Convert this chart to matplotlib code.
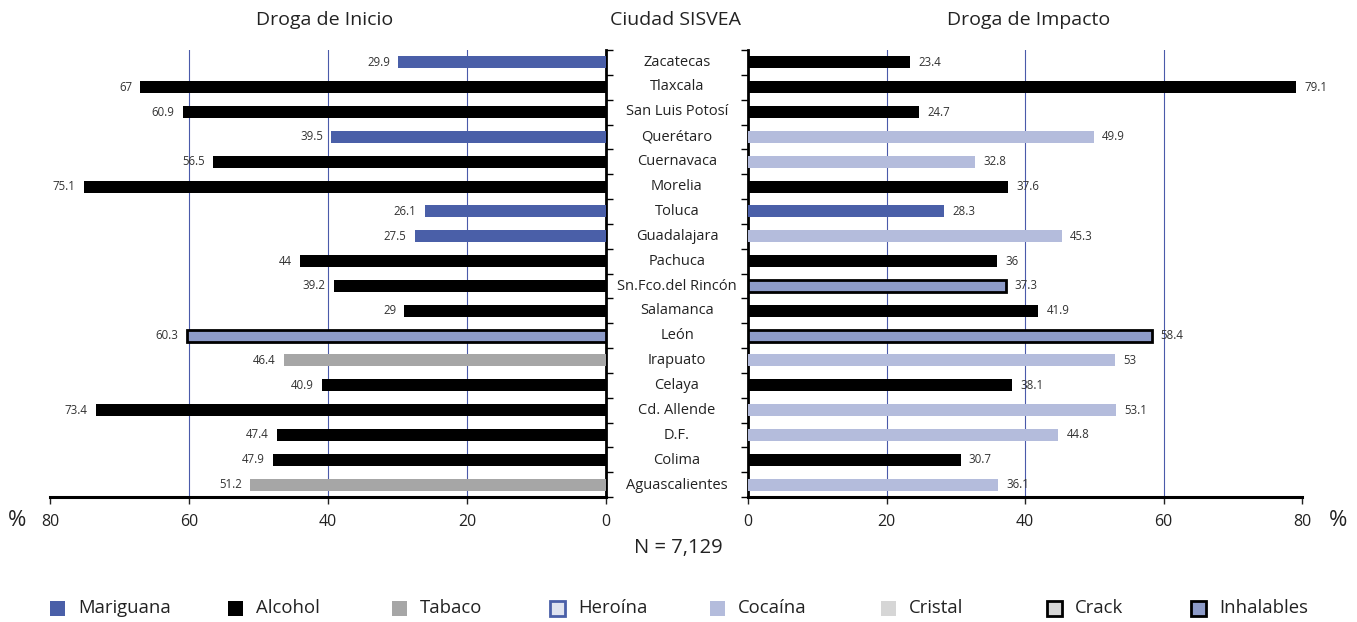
import matplotlib.pyplot as plt
from matplotlib.patches import Rectangle
import numpy as np

plt.rcParams['font.family'] = ['Open Sans', 'DejaVu Sans']

# Cities (top to bottom) and the two percentages per city
ciudades = ['Zacatecas', 'Tlaxcala', 'San Luis Potosí', 'Querétaro', 'Cuernavaca',
            'Morelia', 'Toluca', 'Guadalajara', 'Pachuca', 'Sn.Fco.del Rincón',
            'Salamanca', 'León', 'Irapuato', 'Celaya', 'Cd. Allende', 'D.F.',
            'Colima', 'Aguascalientes']
inicio = [29.9, 67, 60.9, 39.5, 56.5, 75.1, 26.1, 27.5, 44, 39.2,
          29, 60.3, 46.4, 40.9, 73.4, 47.4, 47.9, 51.2]
inicio_droga = ['Mariguana', 'Alcohol', 'Alcohol', 'Mariguana', 'Alcohol', 'Alcohol',
                'Mariguana', 'Mariguana', 'Alcohol', 'Alcohol', 'Alcohol', 'Inhalables',
                'Tabaco', 'Alcohol', 'Alcohol', 'Alcohol', 'Alcohol', 'Tabaco']
impacto = [23.4, 79.1, 24.7, 49.9, 32.8, 37.6, 28.3, 45.3, 36, 37.3,
           41.9, 58.4, 53, 38.1, 53.1, 44.8, 30.7, 36.1]
impacto_droga = ['Alcohol', 'Alcohol', 'Alcohol', 'Cocaína', 'Cocaína', 'Alcohol',
                 'Mariguana', 'Cocaína', 'Alcohol', 'Inhalables', 'Alcohol', 'Inhalables',
                 'Cocaína', 'Alcohol', 'Cocaína', 'Cocaína', 'Alcohol', 'Cocaína']

drogas = ['Mariguana', 'Alcohol', 'Tabaco', 'Heroína', 'Cocaína', 'Cristal', 'Crack', 'Inhalables']
# fill, edge
estilos = {
    'Mariguana': ('#4a5fa8', '#4a5fa8'),
    'Alcohol': ('#000000', '#000000'),
    'Tabaco': ('#a6a6a6', '#a6a6a6'),
    'Heroína': ('#dfe3f0', '#4a5fa8'),
    'Cocaína': ('#b4bcdc', '#b4bcdc'),
    'Cristal': ('#d6d6d6', '#d6d6d6'),
    'Crack': ('#d6d6d6', '#000000'),
    'Inhalables': ('#8d9bc8', '#000000'),
}
con_borde = {'Heroína', 'Crack', 'Inhalables'}
grid_color = '#4a5aaa'
txt = '#222222'

W, H = 1357, 622
fig = plt.figure(figsize=(W / 100, H / 100), dpi=100)
ax_l = fig.add_axes([50 / W, 1 - 497 / H, 556 / W, 447 / H])
ax_r = fig.add_axes([748 / W, 1 - 497 / H, 554 / W, 447 / H])


def dibujar(ax, valores, tipos, lado):
    for i, (v, t) in enumerate(zip(valores, tipos)):
        fc, ec = estilos[t]
        lw = 2 if t in con_borde else 0
        ax.barh(i, v, height=0.48, color=fc, edgecolor=ec, linewidth=lw, zorder=3)
        ha = 'right' if lado == 'izq' else 'left'
        ax.text(v + 1.2, i, f'{v:g}', ha=ha, va='center', fontsize=8.3, color='#333333')
    ax.set_xlim(0, 80)
    ax.set_ylim(len(ciudades) - 0.5, -0.5)
    ax.set_xticks([0, 20, 40, 60, 80])
    ax.set_xticklabels(['0', '20', '40', '60', '80'])
    ax.set_yticks(np.arange(len(ciudades) + 1) - 0.5)
    ax.set_yticklabels([])
    for g in (20, 40, 60):
        ax.axvline(g, color=grid_color, linewidth=0.8, zorder=1)
    ax.spines['top'].set_visible(False)
    ax.spines['bottom'].set_linewidth(2.2)
    ax.tick_params(axis='x', length=5, width=1, labelsize=11.5, colors=txt, pad=7)
    ax.tick_params(axis='y', length=5, width=1)


dibujar(ax_l, inicio, inicio_droga, 'izq')
ax_l.invert_xaxis()
ax_l.spines['left'].set_visible(False)
ax_l.spines['right'].set_linewidth(2)
ax_l.yaxis.tick_right()

dibujar(ax_r, impacto, impacto_droga, 'der')
ax_r.spines['right'].set_visible(False)
ax_r.spines['left'].set_linewidth(2)

for i, c in enumerate(ciudades):
    fig.text(677 / W, 1 - (62 + i * 24.9) / H, c, ha='center', va='center',
             fontsize=10.5, color=txt)

fig.text(325 / W, 1 - 20 / H, 'Droga de Inicio', ha='center', va='center', fontsize=14, color=txt)
fig.text(676 / W, 1 - 20 / H, 'Ciudad SISVEA', ha='center', va='center', fontsize=14, color=txt)
fig.text(1029 / W, 1 - 20 / H, 'Droga de Impacto', ha='center', va='center', fontsize=14, color=txt)
fig.text(17 / W, 1 - 521 / H, '%', ha='center', va='center', fontsize=16, color=txt)
fig.text(1338 / W, 1 - 521 / H, '%', ha='center', va='center', fontsize=16, color=txt)
fig.text(678 / W, 1 - 548 / H, 'N = 7,129', ha='center', va='center', fontsize=14.5, color=txt)

# legend row along the bottom
leg_x = [50, 228, 392, 550, 710, 881, 1047, 1191]
leg_y = 608
sq = 15
for d, x in zip(drogas, leg_x):
    fc, ec = estilos[d]
    lw = 2 if d in con_borde else 0
    fig.add_artist(Rectangle((x / W, 1 - (leg_y + sq / 2) / H), sq / W, sq / H,
                             facecolor=fc, edgecolor=ec, linewidth=lw,
                             transform=fig.transFigure))
    fig.text((x + 28) / W, 1 - leg_y / H, d, ha='left', va='center', fontsize=13.3, color=txt)

fig.savefig('out.png', dpi=100)
